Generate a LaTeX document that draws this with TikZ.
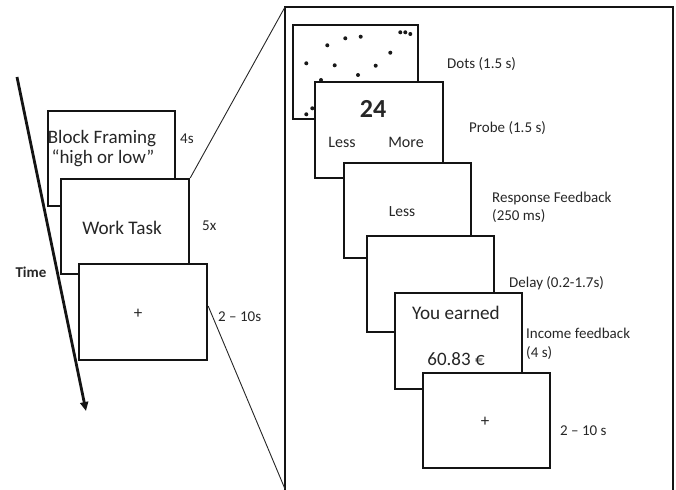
\documentclass[tikz,border=0pt]{standalone}
\usepackage{fontspec}
\setmainfont{Carlito}
\usetikzlibrary{arrows.meta}
\begin{document}
\begin{tikzpicture}[x=1pt,y=-1pt,
  screen/.style={draw=black!92, line width=2.2pt, fill=white, minimum width=127pt, minimum height=95pt, inner sep=0pt, anchor=north west},
  lbl/.style={font=\fontsize{15}{18}\selectfont, text=black!85, inner sep=0pt, anchor=base west},
  txt/.style={text=black!85, inner sep=0pt, anchor=base},
  zoomline/.style={draw=black!85, line width=0.9pt},
  dot/.style={fill=black!90}]
\useasboundingbox (0,0) rectangle (676,489);

% ---------- left sequence ----------
\node[screen] (block) at (47,110) {};
\node[screen, minimum width=128pt] (work) at (60,178) {};
\node[screen, minimum width=128pt, minimum height=96pt] (fixL) at (78,263) {};

\node[txt, font=\fontsize{19}{22}\selectfont] (bf1) at (102,143) {Block Framing};
\node[txt, font=\fontsize{19}{22}\selectfont] (bf2) at (103,163) {“high or low”};
\node[txt, font=\fontsize{19.2}{22}\selectfont] (wt) at (122,234) {Work Task};
\node[txt, font=\fontsize{17}{20}\selectfont, anchor=center] (plusL) at (138,314) {+};

\node[lbl] (l4s) at (180,144) {4s};
\node[lbl] (l5x) at (202,230) {5x};
\node[lbl] (l210) at (218,321) {2 – 10s};
\node[lbl, font=\fontsize{15}{18}\selectfont\bfseries, anchor=base] (time) at (31,277) {Time};

% time arrow
\coordinate (tstart) at (17,77);
\coordinate (tend) at (86,411);
\draw[line width=2.8pt, draw=black!92, -{Triangle[length=9pt,width=8pt]}] (tstart) -- (tend);

% ---------- frame ----------
\coordinate (fbl) at (285,492);
\coordinate (ftl) at (285,7);
\coordinate (ftr) at (673,7);
\coordinate (fbr) at (673,492);
\draw[draw=black!92, line width=2.2pt] (fbl) -- (ftl) -- (ftr) -- (fbr);

% zoom lines
\draw[zoomline] (work.north east) -- (ftl);
\draw[zoomline] ([yshift=6pt]fixL.east) -- (285,489);

% ---------- right sequence ----------
\node[screen, minimum width=125pt, minimum height=94pt] (dots) at (292,24) {};
\foreach \x/\y in {306.3/63.3, 327.3/45.3, 345.3/38.3, 360.7/36.7, 334.7/65.3, 358/75,
                   375.7/65.7, 390.3/52.7, 321/80, 306.3/114.3, 312.3/108.3,
                   400.3/32.3, 405.3/32.3, 410.3/34}
  \fill[dot] (\x,\y) circle (2pt);

\node[screen, minimum width=128pt, minimum height=96pt] (probe) at (314,81) {};
\node[screen] (resp) at (343,162) {};
\node[screen, minimum height=96pt] (delay) at (366,235) {};
\node[screen, minimum height=96pt] (income) at (394,292) {};
\node[screen] (fixR) at (422,372) {};

\node[txt, font=\fontsize{26}{30}\selectfont\bfseries] (n24) at (373,118) {24};
\node[txt, font=\fontsize{16}{19}\selectfont] (less1) at (342,148) {Less};
\node[txt, font=\fontsize{16}{19}\selectfont] (more) at (406,148) {More};
\node[txt, font=\fontsize{15.5}{19}\selectfont] (less2) at (402,216) {Less};
\node[txt, font=\fontsize{19.2}{22}\selectfont] (earned) at (456,319) {You earned};
\node[txt, font=\fontsize{19}{22}\selectfont] (amount) at (456,365) {60.83 €};
\node[txt, font=\fontsize{17}{20}\selectfont, anchor=center] (plusR) at (485,422) {+};

\node[lbl] (ldots) at (447,69) {Dots (1.5 s)};
\node[lbl] (lprobe) at (469,132) {Probe (1.5 s)};
\node[lbl] (lresp1) at (492,202) {Response Feedback};
\node[lbl] (lresp2) at (492,220) {(250 ms)};
\node[lbl] (ldelay) at (509,287) {Delay (0.2-1.7s)};
\node[lbl] (linc1) at (526,338) {Income feedback};
\node[lbl] (linc2) at (526,357) {(4 s)};
\node[lbl] (l210r) at (560,435) {2 – 10 s};
\end{tikzpicture}
\end{document}
